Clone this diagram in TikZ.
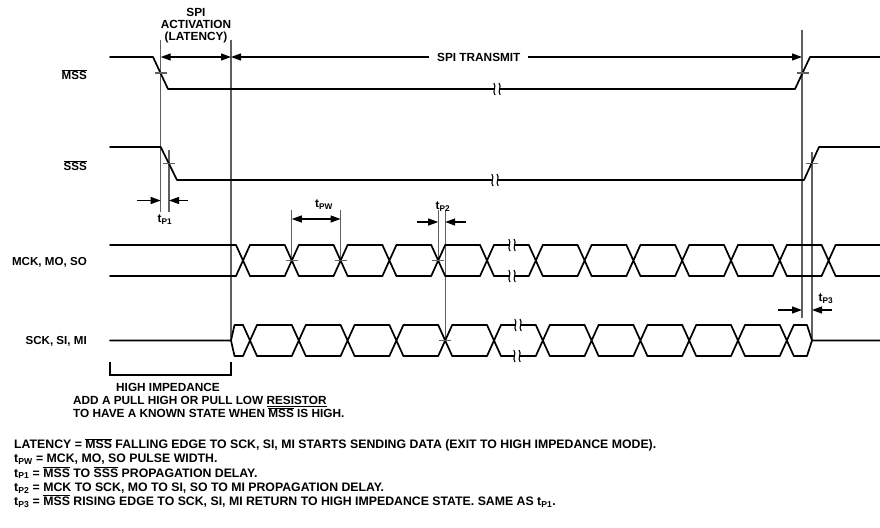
\documentclass[tikz,border=0pt]{standalone}
\usepackage{fontspec}
\setmainfont{Liberation Sans}
\usetikzlibrary{arrows.meta}
\definecolor{guide}{HTML}{606060}
\tikzset{
  wave/.style ={draw=black, line width=1.7pt, line cap=round, line join=round},
  gl/.style   ={draw=guide, line width=1.1pt},
  tk/.style   ={draw=guide, line width=1.1pt},
  dim/.style  ={draw=black, line width=1.2pt, -{Triangle[length=10pt,width=7pt]}},
  ddim/.style ={draw=black, line width=1.2pt,
                {Triangle[length=10pt,width=7pt]}-{Triangle[length=10pt,width=7pt]}},
  brc/.style  ={draw=black, line width=1.2pt},
  sig/.style  ={font=\bfseries\fontsize{11.6}{13}\selectfont, anchor=east, inner sep=0pt},
  txt/.style  ={font=\bfseries\fontsize{11.8}{12.2}\selectfont, inner sep=0pt},
  note/.style ={font=\bfseries\fontsize{12.3}{14.2}\selectfont, inner sep=0pt, align=left},
  brk/.pic    ={\fill[white] (-2.6,-2.5) rectangle (2.6,2.5);
                \foreach \d in {-2.6,2.6}
                  \draw[line width=1.1pt] (\d-0.6,-6) .. controls (\d+2.6,-2.5) and (\d-2.6,2.5) .. (\d+0.6,6);}
}
\newcommand{\ovl}[1]{$\overline{\hbox{#1}}$}
\newcommand{\tsub}[1]{t\textsubscript{#1}}

\begin{document}
\begin{tikzpicture}[x=1pt,y=-1pt]
  \useasboundingbox (0,0) rectangle (880,527);
  \def\hw{7}      % half width of a bus transition
  \def\per{48.8}  % bit period
  \def\mc{243}    % first MCK crossing
  \def\sc{250}    % first SCK crossing

  % ---------------- guide lines ----------------------------------------------
  \draw[gl] (160.7,40) -- (160.7,212);
  \draw[gl] (231,40) -- (231,340.5);
  \draw[gl] (169,150) -- (169,212);
  \draw[gl] (291.8,210) -- (291.8,260.5);
  \draw[gl] (340.6,210) -- (340.6,260.5);
  \draw[gl] (438.2,210) -- (438.2,260.5);
  \draw[gl] (445.2,210) -- (445.2,340.5);
  \draw[gl] (802,30) -- (802,318);
  \draw[gl] (812,152) -- (812,340.5);

  % ---------------- MSS and SSS ----------------------------------------------
  \draw[wave] (110,57) -- (153,57) -- (168,89) -- (795,89) -- (810,57) -- (880,57);
  \draw[wave] (110,147) -- (160.7,147) -- (177,180) -- (804,180) -- (819,147) -- (880,147);

  % ---------------- MCK, MO, SO ----------------------------------------------
  \draw[wave] (110,245) -- (\mc-\hw,245) (110,276) -- (\mc-\hw,276);
  \foreach \k in {0,...,12}{
    \pgfmathsetmacro\c{\mc+\per*\k}
    \draw[wave] (\c-\hw,245) -- (\c+\hw,276) (\c-\hw,276) -- (\c+\hw,245);
  }
  \foreach \k in {0,...,11}{
    \pgfmathsetmacro\c{\mc+\per*\k}
    \draw[wave] (\c+\hw,245) -- (\c+\per-\hw,245) (\c+\hw,276) -- (\c+\per-\hw,276);
  }
  \draw[wave] (\mc+\per*12+\hw,245) -- (880,245) (\mc+\per*12+\hw,276) -- (880,276);

  % ---------------- SCK, SI, MI ----------------------------------------------
  \draw[wave] (110,340.5) -- (231,340.5) -- (234.5,325) -- (\sc-\hw,325);
  \draw[wave] (231,340.5) -- (234.5,356) -- (\sc-\hw,356);
  \foreach \k in {0,...,11}{
    \pgfmathsetmacro\c{\sc+\per*\k}
    \draw[wave] (\c-\hw,325) -- (\c+\hw,356) (\c-\hw,356) -- (\c+\hw,325);
  }
  \foreach \k in {0,...,10}{
    \pgfmathsetmacro\c{\sc+\per*\k}
    \draw[wave] (\c+\hw,325) -- (\c+\per-\hw,325) (\c+\hw,356) -- (\c+\per-\hw,356);
  }
  \draw[wave] (\sc+\per*11+\hw,325) -- (807,325) -- (812,340.5) -- (880,340.5);
  \draw[wave] (\sc+\per*11+\hw,356) -- (807,356) -- (812,340.5);

  % breaks in the time axis
  \foreach \x/\y in {497/89, 495/180, 512/245, 512/276, 518/325, 517/356}
    \pic at (\x,\y) {brk};

  % ---------------- crossing ticks -------------------------------------------
  \foreach \x/\y in {160.5/73, 169/163.5, 802.5/73, 811.5/163.5,
                     291.8/260.5, 340.6/260.5, 438.2/260.5, 445.2/340.5}
    \draw[tk] (\x-6,\y) -- (\x+6,\y);

  % ---------------- dimension arrows -----------------------------------------
  \draw[ddim] (160.7,57) -- (231,57);
  \draw[ddim] (231,57) -- node[txt,fill=white,pos=0.434,inner xsep=8pt] (trn) {SPI TRANSMIT} (802,57);
  \draw[dim] (137,200.5) -- (160.7,200.5);
  \draw[dim] (188,200.5) -- (169,200.5);
  \draw[ddim] (291.8,219) -- (340.6,219);
  \draw[dim] (417,222) -- (438.2,222);
  \draw[dim] (466,222) -- (445.2,222);
  \draw[dim] (778,310) -- (802,310);
  \draw[dim] (832,310) -- (812,310);

  % ---------------- labels ---------------------------------------------------
  \node[txt,align=center,anchor=north] (act) at (196,8) {SPI\\ACTIVATION\\(LATENCY)};
  \node[txt] (tp1) at (165,220) {\tsub{P1}};
  \node[txt] (tpw) at (324,205) {\tsub{PW}};
  \node[txt] (tp2) at (443,207) {\tsub{P2}};
  \node[txt] (tp3) at (826,299) {\tsub{P3}};

  \node[sig] (mss) at (87,75)  {\ovl{MSS}};
  \node[sig] (sss) at (87,166) {\ovl{SSS}};
  \node[sig] (mck) at (87,262) {MCK, MO, SO};
  \node[sig] (sck) at (87,341) {SCK, SI, MI};

  % high impedance span
  \draw[brc] (110,362) -- (110,375) -- (231,375) -- (231,362);
  \node[txt] (hiz) at (168,387) {HIGH IMPEDANCE};
  \node[txt,align=left,anchor=north west] (pull) at (73,396)
        {ADD A PULL HIGH OR PULL LOW \underline{RESISTOR}\\TO HAVE A KNOWN STATE WHEN \ovl{MSS} IS HIGH.};

  % ---------------- definitions ----------------------------------------------
  \node[note,anchor=north west] (defs) at (14,438)
        {LATENCY = \ovl{MSS} FALLING EDGE TO SCK, SI, MI STARTS SENDING DATA (EXIT TO HIGH IMPEDANCE MODE).\\
         \tsub{PW} = MCK, MO, SO PULSE WIDTH.\\
         \tsub{P1} = \ovl{MSS} TO \ovl{SSS} PROPAGATION DELAY.\\
         \tsub{P2} = MCK TO SCK, MO TO SI, SO TO MI PROPAGATION DELAY.\\
         \tsub{P3} = \ovl{MSS} RISING EDGE TO SCK, SI, MI RETURN TO HIGH IMPEDANCE STATE. SAME AS \tsub{P1}.};
\end{tikzpicture}
\end{document}
